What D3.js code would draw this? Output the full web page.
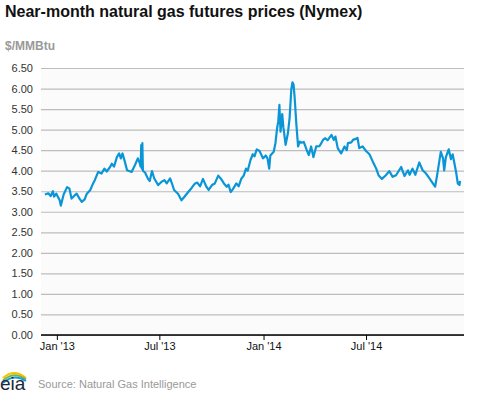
<!DOCTYPE html>
<html lang="en">
  <head>
    <meta charset="utf-8">
    <title>Near-month natural gas futures prices</title>
    <script src="https://cdn.jsdelivr.net/npm/d3@7"></script>
    <style>
      body { margin: 0; background: #fff; }
      svg text { font-family: Arial, 'Liberation Sans', sans-serif; }
    </style>
  </head>
  <body>
    <div id='chart'></div>

    <script type='text/javascript'>
      // values (Nymex near-month, $/MMBtu)
      let dates = [
        '2012-12-11','2012-12-17','2012-12-21','2012-12-25','2012-12-27','2012-12-31',
        '2013-01-06','2013-01-08','2013-01-13','2013-01-19','2013-01-23','2013-01-27','2013-01-31',
        '2013-02-05','2013-02-10','2013-02-14','2013-02-19','2013-02-23',
        '2013-03-01','2013-03-06','2013-03-09','2013-03-15','2013-03-21','2013-03-26','2013-03-30',
        '2013-04-05','2013-04-08','2013-04-12','2013-04-17','2013-04-21','2013-04-24','2013-04-27',
        '2013-05-01','2013-05-05','2013-05-13','2013-05-19','2013-05-24','2013-05-27','2013-05-29','2013-05-30','2013-05-31',
        '2013-06-01','2013-06-02','2013-06-06','2013-06-11','2013-06-14','2013-06-18','2013-06-22','2013-06-29',
        '2013-07-05','2013-07-10','2013-07-14','2013-07-20','2013-07-23','2013-07-27',
        '2013-08-03','2013-08-09','2013-08-14','2013-08-21','2013-08-27',
        '2013-09-02','2013-09-06','2013-09-11','2013-09-16','2013-09-22','2013-09-26',
        '2013-10-02','2013-10-07','2013-10-13','2013-10-18','2013-10-23','2013-10-28','2013-10-31',
        '2013-11-04','2013-11-08','2013-11-14','2013-11-18','2013-11-23','2013-11-27',
        '2013-12-01','2013-12-04','2013-12-09','2013-12-13','2013-12-16','2013-12-20','2013-12-25','2013-12-31',
        '2014-01-05','2014-01-08','2014-01-11','2014-01-13','2014-01-19','2014-01-22','2014-01-25','2014-01-27','2014-01-29','2014-01-31',
        '2014-02-03','2014-02-05','2014-02-09','2014-02-13','2014-02-16','2014-02-19','2014-02-21','2014-02-23','2014-02-25','2014-02-28',
        '2014-03-03','2014-03-06','2014-03-09','2014-03-13','2014-03-18','2014-03-22','2014-03-26','2014-03-30',
        '2014-04-04','2014-04-10','2014-04-13','2014-04-16','2014-04-20','2014-04-24',
        '2014-05-01','2014-05-05','2014-05-08','2014-05-12','2014-05-18','2014-05-24','2014-05-28','2014-05-30',
        '2014-06-05','2014-06-08','2014-06-14','2014-06-16','2014-06-19','2014-06-25',
        '2014-07-01','2014-07-07','2014-07-13','2014-07-19','2014-07-23','2014-07-29',
        '2014-08-05','2014-08-11','2014-08-17','2014-08-23',
        '2014-09-01','2014-09-07','2014-09-13','2014-09-16','2014-09-21','2014-09-26',
        '2014-10-03','2014-10-09','2014-10-15','2014-10-21','2014-10-27','2014-10-31',
        '2014-11-04','2014-11-10','2014-11-14','2014-11-16','2014-11-19','2014-11-24','2014-11-28',
        '2014-12-01','2014-12-07','2014-12-10','2014-12-13','2014-12-14'
      ];
      let prices = [
        3.42,3.45,3.38,3.50,3.37,3.44,
        3.28,3.15,3.42,3.60,3.57,3.32,3.38,
        3.44,3.32,3.24,3.30,3.44,
        3.53,3.69,3.77,3.97,3.93,4.05,3.98,
        4.09,4.17,4.10,4.33,4.42,4.30,4.42,
        4.22,4.01,3.97,4.14,4.30,4.20,4.10,4.62,4.05,
        4.67,4.00,3.95,3.80,3.75,3.99,3.81,3.65,
        3.73,3.77,3.69,3.81,3.70,3.53,
        3.44,3.28,3.36,3.48,3.58,
        3.69,3.71,3.62,3.80,3.61,3.53,
        3.65,3.69,3.88,3.80,3.69,3.61,3.66,
        3.48,3.55,3.69,3.62,3.81,3.88,
        4.05,4.00,4.26,4.40,4.35,4.52,4.48,4.30,
        4.37,4.30,4.05,4.37,4.46,4.67,5.04,5.20,5.60,4.95,
        5.38,5.06,4.63,4.91,5.28,5.97,6.15,6.10,5.77,5.12,
        4.59,4.71,4.68,4.70,4.51,4.38,4.59,4.33,
        4.59,4.60,4.67,4.75,4.79,4.74,
        4.87,4.75,4.83,4.55,4.42,4.59,4.50,4.67,
        4.69,4.75,4.78,4.80,4.55,4.59,
        4.48,4.40,4.22,4.05,3.89,3.80,
        3.89,3.99,3.85,3.89,
        4.09,3.87,4.01,3.90,4.05,3.90,
        4.20,4.01,3.93,3.81,3.69,3.61,
        3.93,4.46,4.30,4.01,4.33,4.52,4.28,
        4.40,3.97,3.69,3.65,3.75
      ];
      let yTicks = [0, 0.5, 1, 1.5, 2, 2.5, 3, 3.5, 4, 4.5, 5, 5.5, 6, 6.5];
      let xTicks = ['2013-01-01', '2013-07-01', '2014-01-01', '2014-07-01'];

      let width = 477, height = 393;
      let margin = {top: 68, right: 13, bottom: 58, left: 41};
      let parse = d3.timeParse('%Y-%m-%d');
      let data = dates.map((d, i) => ({date: parse(d), value: prices[i]}));

      let svg = d3.select('#chart').append('svg')
        .attr('width', width)
        .attr('height', height)

      let x = d3.scaleTime()
        .domain([parse('2012-12-04'), parse('2014-12-21')])
        .range([margin.left, width - margin.right])
      let y = d3.scaleLinear()
        .domain([0, 6.5])
        .range([height - margin.bottom, margin.top])

      // title + unit
      svg.append('text')
        .attr('x', 5).attr('y', 17)
        .attr('font-size', 16).attr('font-weight', 'bold')
        .attr('fill', '#111')
        .text('Near-month natural gas futures prices (Nymex)')
      svg.append('text')
        .attr('x', 5).attr('y', 50)
        .attr('font-size', 12).attr('font-weight', 'bold')
        .attr('fill', '#999')
        .text('$/MMBtu')

      // plot background
      svg.append('rect')
        .attr('x', margin.left).attr('y', margin.top)
        .attr('width', width - margin.left - margin.right)
        .attr('height', height - margin.top - margin.bottom)
        .attr('fill', '#fbfbfb')

      // y gridlines and labels
      let yAxis = svg.append('g')
        .attr('transform', 'translate(' + margin.left + ',0)')
        .call(d3.axisLeft(y)
          .tickValues(yTicks)
          .tickSize(-(width - margin.left - margin.right))
          .tickPadding(8)
          .tickFormat(d3.format('.2f')))
      yAxis.select('.domain').remove()
      yAxis.selectAll('.tick line')
        .attr('stroke', '#bdbdbd')
        .attr('stroke-width', 1.2)
      yAxis.selectAll('.tick text')
        .attr('font-size', 11)
        .attr('fill', '#333')
        .attr('font-family', 'Arial, Liberation Sans, sans-serif')

      // price line
      let line = d3.line()
        .x((d) => x(d.date))
        .y((d) => y(d.value))
      svg.append('path')
        .datum(data)
        .attr('d', line)
        .attr('fill', 'none')
        .attr('stroke', '#0a96d6')
        .attr('stroke-width', 2.2)
        .attr('stroke-linejoin', 'round')

      // x axis
      let xAxis = svg.append('g')
        .attr('transform', 'translate(0,' + (height - margin.bottom) + ')')
        .call(d3.axisBottom(x)
          .tickValues(xTicks.map(parse))
          .tickSize(5)
          .tickPadding(2)
          .tickFormat(d3.timeFormat("%b '%y")))
      xAxis.select('.domain')
        .attr('d', 'M' + margin.left + ',0H' + (width - margin.right))
        .attr('stroke', '#000')
        .attr('stroke-width', 1.5)
      xAxis.selectAll('.tick line').attr('stroke', '#000')
      xAxis.selectAll('.tick text')
        .attr('font-size', 11)
        .attr('fill', '#111')
        .attr('font-family', 'Arial, Liberation Sans, sans-serif')

      // eia logo + source
      let logo = svg.append('g').attr('transform', 'translate(0,370)')
      let arcs = [['#f5c400', 0], ['#7ab648', 2.5], ['#1d9ad6', 5]]
      arcs.forEach((a) => {
        logo.append('path')
          .attr('d', 'M3,' + (8 + a[1]) + ' Q14,' + (-2 + a[1]) + ' 26,' + (8 + a[1] * 0.6))
          .attr('fill', 'none')
          .attr('stroke', a[0])
          .attr('stroke-width', 2)
      })
      logo.append('text')
        .attr('x', 0).attr('y', 20)
        .attr('font-size', 19)
        .attr('font-family', 'Liberation Serif, DejaVu Serif, serif')
        .attr('fill', '#1a2a3a')
        .text('eia')
      svg.append('text')
        .attr('x', 38).attr('y', 388)
        .attr('font-size', 11)
        .attr('fill', '#999')
        .text('Source: Natural Gas Intelligence')
    </script>
  </body>
</html>
